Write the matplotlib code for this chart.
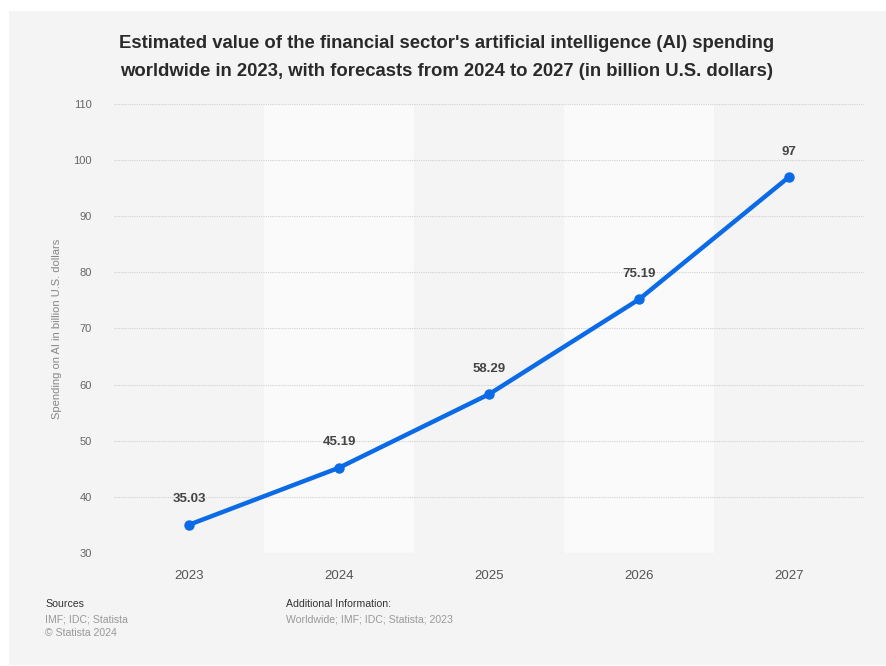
import matplotlib.pyplot as plt
from matplotlib.patches import Rectangle

years = ["2023", "2024", "2025", "2026", "2027"]
spending = [35.03, 45.19, 58.29, 75.19, 97]
value_labels = ["35.03", "45.19", "58.29", "75.19", "97"]
y_ticks = [30, 40, 50, 60, 70, 80, 90, 100, 110]

W, H = 886, 666
plt.rcParams["font.family"] = ["Liberation Sans", "DejaVu Sans"]

fig = plt.figure(figsize=(W / 100, H / 100), dpi=100, facecolor="white")

# gray card behind everything
fig.patches.append(Rectangle((9 / W, 1 / H), (W - 9) / W, (655 - 1) / H,
                             transform=fig.transFigure, facecolor="#f4f4f4",
                             edgecolor="none", zorder=-5))

ax = fig.add_axes([114 / W, 113 / H, 750 / W, 449 / H])
ax.set_facecolor("none")

x = list(range(len(years)))
for i in x:
    if i % 2 == 1:
        ax.axvspan(i - 0.5, i + 0.5, facecolor="#fafafa", edgecolor="none", zorder=0)

ax.plot(x, spending, color="#0b6ae6", linewidth=3.2, marker="o", markersize=6.5,
        solid_capstyle="round", zorder=3)

for xi, v, lab in zip(x, spending, value_labels):
    ax.annotate(lab, (xi, v), xytext=(0, 14), textcoords="offset points",
                ha="center", va="bottom", fontsize=9.5, fontweight="bold", color="#444444")

ax.set_xlim(-0.5, 4.5)
ax.set_ylim(30, 110)
ax.set_xticks(x)
ax.set_xticklabels(years)
ax.set_yticks(y_ticks)
ax.tick_params(axis="x", length=0, pad=12, labelsize=9.5, labelcolor="#555555")
ax.tick_params(axis="y", length=0, pad=16, labelsize=8, labelcolor="#666666")
ax.grid(axis="y", color="#d0d0d0", linestyle=(0, (1, 1)), linewidth=0.8, zorder=1)
ax.set_axisbelow(True)
for s in ax.spines.values():
    s.set_visible(False)

ax.set_ylabel("Spending on AI in billion U.S. dollars", fontsize=8, color="#888888", labelpad=8)

fig.text(447 / W, 1 - 44 / H,
         "Estimated value of the financial sector's artificial intelligence (AI) spending",
         ha="center", va="center", fontsize=13.3, fontweight="bold", color="#2a2a2a")
fig.text(447 / W, 1 - 72 / H,
         "worldwide in 2023, with forecasts from 2024 to 2027 (in billion U.S. dollars)",
         ha="center", va="center", fontsize=13.3, fontweight="bold", color="#2a2a2a")

fig.text(45 / W, 1 - 604 / H, "Sources", fontsize=7.6, color="#333333", va="center")
fig.text(45 / W, 1 - 619 / H, "IMF; IDC; Statista", fontsize=7.6, color="#999999", va="center")
fig.text(45 / W, 1 - 633 / H, "\u00a9 Statista 2024", fontsize=7.6, color="#999999", va="center")
fig.text(286 / W, 1 - 604 / H, "Additional Information:", fontsize=7.6, color="#333333", va="center")
fig.text(286 / W, 1 - 619 / H, "Worldwide; IMF; IDC; Statista; 2023", fontsize=7.6,
         color="#999999", va="center")

fig.savefig("out.png", dpi=100, facecolor=fig.get_facecolor())
